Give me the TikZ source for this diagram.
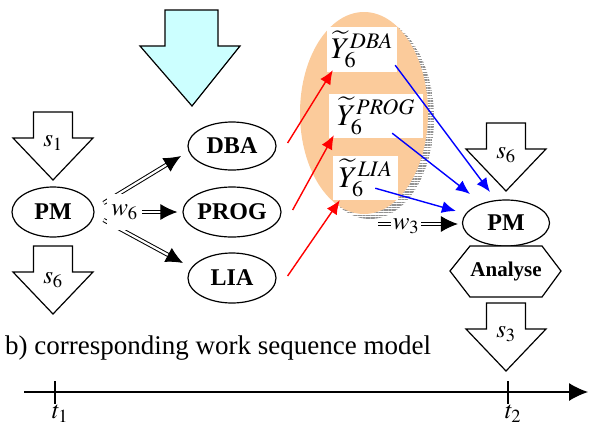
\documentclass[tikz,border=0pt]{standalone}
\usepackage{mathptmx}
\usepackage{fontspec}
\setmainfont{Liberation Serif}
\usetikzlibrary{shapes.geometric,arrows.meta,calc,patterns.meta}
\definecolor{peach}{RGB}{251,203,155}
\definecolor{paleCyan}{RGB}{204,255,255}
\begin{document}
\begin{tikzpicture}[x=1pt,y=-1pt,
  outl/.style={line width=1.2pt},
  ell/.style={ellipse, draw, line width=1.2pt, minimum width=88pt, minimum height=48pt, inner sep=0pt,
    font=\fontsize{24}{26}\selectfont\bfseries},
  lbl/.style={inner sep=0pt, font=\fontsize{25}{27}\selectfont},
  ybox/.style={fill=white, draw=none, inner sep=0pt, font=\fontsize{30}{32}\selectfont},
  dbl/.style={double, double distance=2.2pt, line width=1pt, -{Latex[length=17pt,width=16pt]}},
  dblstub/.style={double, double distance=2.2pt, line width=1pt},
  redarr/.style={red, line width=1.4pt, -{Latex[length=14pt,width=12pt]}},
  bluearr/.style={blue, line width=1.4pt, -{Latex[length=14pt,width=12pt]}},
  blockarr/.pic={\draw[line width=1.2pt, fill=white] (-19.5,0) -- (19.5,0) -- (19.5,26) -- (40,26) -- (0,68) -- (-40,26) -- (-19.5,26) -- cycle;}
]
\useasboundingbox (0,0) rectangle (589,426);

% big cyan arrow
\draw[line width=1.2pt, fill=paleCyan] (165,10) -- (218,10) -- (218,46) -- (240,46) -- (192,106) -- (140,46) -- (165,46) -- cycle;

% hollow block arrows
\pic at (53,112) {blockarr};
\pic at (53,246) {blockarr};
\pic at (506,123) {blockarr};
\pic at (506,303) {blockarr};
\node[lbl] (s1) at (53,143) {$s_1$};
\node[lbl] (s6a) at (53,280) {$s_6$};
\node[lbl] (s6b) at (506,155) {$s_6$};
\node[lbl] (s3) at (506,334) {$s_3$};

% orange ellipse with striped shadow
\fill[white] (370,118) ellipse [x radius=64, y radius=101];
\fill[pattern={Lines[angle=0,distance=2.6pt,line width=1.4pt]}, pattern color=gray!85] (370,118) ellipse [x radius=64, y radius=101];
\fill[peach] (364,113) ellipse [x radius=64, y radius=101];

% white boxes
\node[ybox, minimum width=70pt, minimum height=45pt] (yd) at (362,49.5) {$\widetilde{Y}_6^{DBA}$};
\node[ybox, minimum width=94pt, minimum height=44pt] (yp) at (376,116) {$\widetilde{Y}_6^{PROG}$};
\node[ybox, minimum width=65pt, minimum height=44pt] (yl) at (365.5,178) {$\widetilde{Y}_6^{LIA}$};

% nodes
\node[ell, minimum width=82pt, minimum height=50pt] (PM) at (53,212) {PM};
\node[ell] (DBA) at (232,146) {DBA};
\node[ell, minimum height=50pt] (PROG) at (232,212) {PROG};
\node[ell, minimum height=50pt] (LIA) at (232,278) {LIA};
\node[ell, minimum width=87pt, minimum height=46pt] (PMr) at (506,223) {PM};

% Analyse hexagon
\draw[outl, fill=white] (450,271) -- (470,246) -- (542,246) -- (561,271) -- (542,297) -- (470,297) -- cycle;
\node[inner sep=0pt, font=\fontsize{21}{23}\selectfont\bfseries] (an) at (506,271) {Analyse};

% double arrows from PM (partly hidden by the w6 label)
\draw[dbl] ($(PM.east)+(9,-9)$) -- ($(DBA.center)+(-51,10)$);
\draw[dbl] ($(PM.east)+(9,8)$) -- ($(LIA.center)+(-49,-15)$);
\node[lbl, fill=white, minimum width=35pt, minimum height=36pt] (w6) at (124.5,212) {$w_6$};
\draw[dbl] (w6.east) -- ($(PROG.west)+(-5,0)$);

% w3
\coordinate (w3s) at (378,224);
\node[lbl, inner sep=2pt] (w3) at (406,226) {$w_3$};
\draw[dblstub] (w3s) -- (w3.west |- w3s);
\draw[dbl] (w3.east |- w3s) -- ($(PMr.west)+(-4,1)$);

% red arrows
\draw[redarr] ($(DBA.east)+(11,-3)$) -- ($(yd.south west)+(6,-2)$);
\draw[redarr] ($(PROG.east)+(11,-2)$) -- ($(yp.south west)+(5,-3)$);
\draw[redarr] ($(LIA.east)+(11,-2)$) -- ($(yl.south west)+(7,0)$);

% blue arrows
\draw[bluearr] ($(yd.south east)+(-2,-7)$) -- ($(PMr.center)+(-16,-31)$);
\draw[bluearr] ($(yp.south east)+(-31,-5)$) -- ($(PMr.center)+(-36,-29)$);
\draw[bluearr] ($(yl.south east)+(-23,-12)$) -- ($(PMr.west)+(-6,-12)$);

% caption
\node[anchor=base west, inner sep=0pt, font=\fontsize{27}{30}\selectfont] (cap) at (5,354) {b) corresponding work sequence model};

% time axis
\coordinate (ax0) at (24,392);
\coordinate (ax1) at (588,392);
\draw[line width=1.2pt, -{Latex[length=19pt,width=18pt]}] (ax0) -- (ax1);
\coordinate (tk1) at (55,392);
\coordinate (tk2) at (508,392);
\draw[line width=1.2pt] ($(tk1)+(0,-11)$) -- ($(tk1)+(0,12)$);
\draw[line width=1.2pt] ($(tk2)+(0,-11)$) -- ($(tk2)+(0,12)$);
\node[lbl, anchor=north] (t1) at (60,405) {$t_1$};
\node[lbl, anchor=north] (t2) at (513,405) {$t_2$};
\end{tikzpicture}
\end{document}
